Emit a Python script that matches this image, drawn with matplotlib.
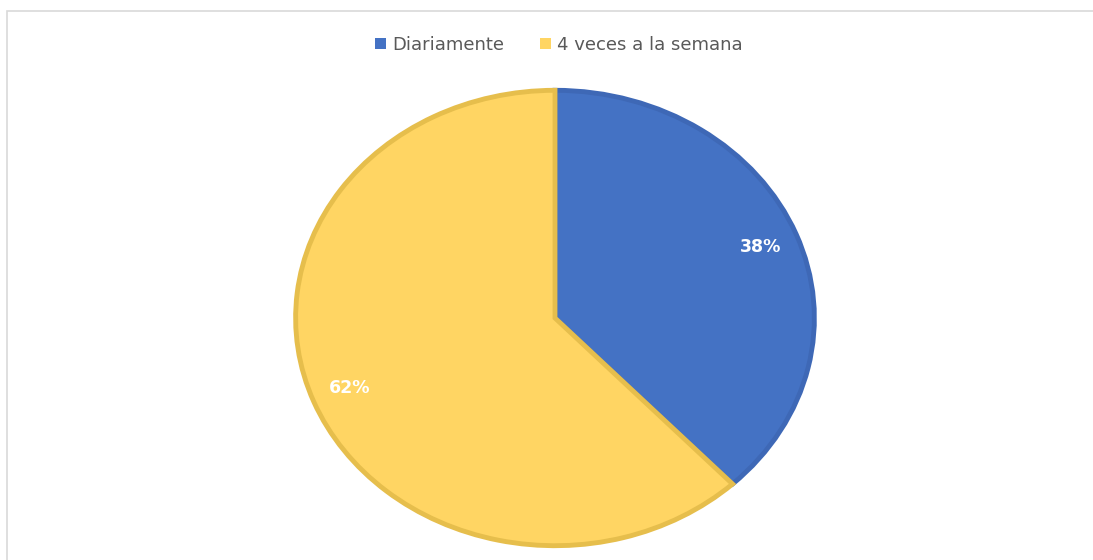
import matplotlib.pyplot as plt
from matplotlib.patches import Rectangle

categories = ["Diariamente", "4 veces a la semana"]
values = [38, 62]
face_colors = ["#4472C4", "#FFD563"]
edge_colors = ["#3E68B6", "#E6BE4C"]

W, H = 1093, 560
fig = plt.figure(figsize=(W / 100, H / 100), dpi=100)
fig.patch.set_facecolor("white")

# outer chart-area frame
fig.add_artist(Rectangle((7 / W, -0.01), 1.2, (H - 11) / H + 0.01,
                         transform=fig.transFigure, fill=False,
                         edgecolor="#D9D9D9", linewidth=1.2))

# pie area (stretched ellipse)
cx, cy, rx, ry = 555, 318, 262, 230
ax = fig.add_axes([(cx - rx) / W, (H - cy - ry) / H, 2 * rx / W, 2 * ry / H])
wedges, _ = ax.pie(values, colors=face_colors, startangle=90, counterclock=False,
                   radius=0.99,
                   wedgeprops=dict(linewidth=3.5, edgecolor="white"))
for w, ec in zip(wedges, edge_colors):
    w.set_edgecolor(ec)
ax.set_aspect("auto")
ax.set_xlim(-1, 1)
ax.set_ylim(-1, 1)
ax.axis("off")

# percentage labels
label_pos = [(761, 247), (350, 388)]
for v, (px, py) in zip(values, label_pos):
    fig.text(px / W, 1 - py / H, f"{v}%", color="white", fontsize=12.5,
             fontweight="bold", ha="center", va="center")

# legend
handles = [Rectangle((0, 0), 1, 1, facecolor=c) for c in face_colors]
fig.legend(handles, categories, loc="center", bbox_to_anchor=(559 / W, 1 - 45 / H),
           ncol=2, frameon=False, fontsize=13, labelcolor="#595959",
           handlelength=0.6, handleheight=0.6, handletextpad=0.35, columnspacing=2.0)

fig.savefig("out.png", dpi=100, facecolor="white")
